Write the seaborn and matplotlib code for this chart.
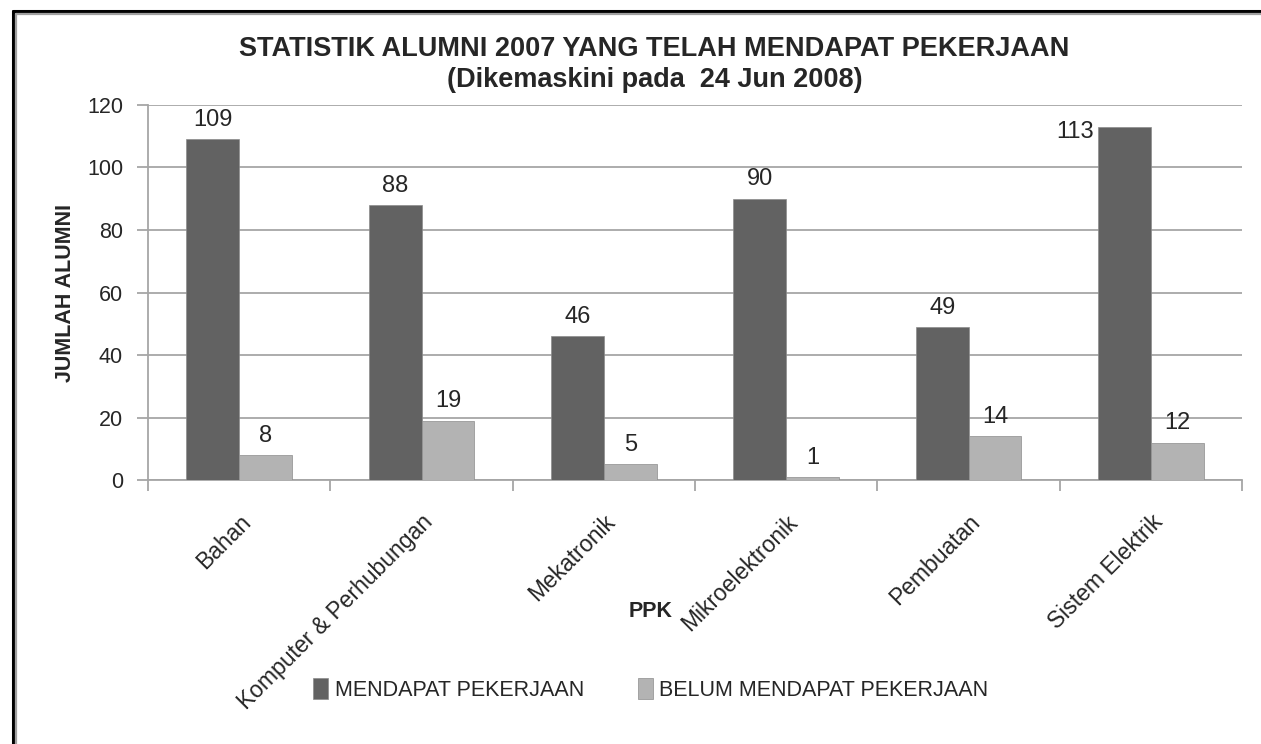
#!/usr/bin/env python3
# Bar chart: alumni 2007 employment status by PPK (school)

import numpy as np
import pandas as pd
import seaborn as sns
import matplotlib
matplotlib.use("Agg")
import matplotlib.pyplot as plt
from matplotlib.lines import Line2D

# Data
ppk = ["Bahan", "Komputer & Perhubungan", "Mekatronik", "Mikroelektronik",
       "Pembuatan", "Sistem Elektrik"]
mendapat = [109, 88, 46, 90, 49, 113]
belum = [8, 19, 5, 1, 14, 12]
statusNames = ["MENDAPAT PEKERJAAN", "BELUM MENDAPAT PEKERJAAN"]
yTicks = [0, 20, 40, 60, 80, 100, 120]

titleText = "STATISTIK ALUMNI 2007 YANG TELAH MENDAPAT PEKERJAAN\n(Dikemaskini pada  24 Jun 2008)"

DARK = "#626262"
LIGHT = "#b3b3b3"
GRID = "#a6a6a6"
NARROW = ["Liberation Sans Narrow", "Liberation Sans", "DejaVu Sans"]
REGULAR = ["Liberation Sans", "DejaVu Sans"]

rows = []
for name, a, b in zip(ppk, mendapat, belum):
  rows.append({"PPK": name, "Status": statusNames[0], "Jumlah": a})
  rows.append({"PPK": name, "Status": statusNames[1], "Jumlah": b})
df = pd.DataFrame(data=rows)

sns.set_style("white")
plt.rcParams['font.family'] = REGULAR

fig = plt.figure(figsize=(12.61, 7.44), dpi=100)
ax = fig.add_axes([0.1174, 0.3548, 0.8676, 0.5041])

sns.barplot(data=df, x="PPK", y="Jumlah", hue="Status", order=ppk,
            hue_order=statusNames, palette={statusNames[0]: DARK, statusNames[1]: LIGHT},
            width=0.58, edgecolor="#8c8c8c", linewidth=0.5, saturation=1,
            legend=True, ax=ax, zorder=3)

ax.set_ylim(0, 120)
ax.set_xlim(-0.5, len(ppk) - 0.5)
ax.set_yticks(yTicks)
ax.yaxis.grid(True, color=GRID, linewidth=1.3, zorder=0)
ax.set_axisbelow(True)

for side in ["top", "right"]:
  ax.spines[side].set_visible(False)
for side in ["left", "bottom"]:
  ax.spines[side].set_color(GRID)
  ax.spines[side].set_linewidth(1.3)

ax.tick_params(axis="y", which="major", length=8, width=1.3, color=GRID,
               labelsize=15.5, pad=10, left=True)
ax.set_xticks(np.arange(len(ppk)))
ax.set_xticklabels(ppk, rotation=45, ha="right", rotation_mode="anchor")
ax.set_xticks(np.arange(len(ppk) + 1) - 0.5, minor=True)
ax.tick_params(axis="x", which="major", length=0, labelsize=16.5, pad=22)
ax.tick_params(axis="x", which="minor", length=8, width=1.3, color=GRID, bottom=True)

ax.set_xlabel("")
ax.set_ylabel("JUMLAH ALUMNI", fontsize=15.5, fontweight="bold", family=NARROW, labelpad=8)
fig.text(0.516, 0.178, "PPK", ha="center", va="center", fontsize=15.5,
         fontweight="bold", family=NARROW)

# Value labels
for container, vals in zip(ax.containers, [mendapat, belum]):
  labels = [str(v) for v in vals]
  if vals is mendapat:
    iMax = int(np.argmax(vals))
    labels[iMax] = ""
    bar = container.patches[iMax]
    ax.annotate(str(vals[iMax]), (bar.get_x(), bar.get_height()),
                xytext=(-3, -4), textcoords="offset points", ha="right", va="center",
                fontsize=17, family=NARROW)
  ax.bar_label(container, labels=labels, padding=6, fontsize=17, family=NARROW)

# Legend at the bottom
handles, _ = ax.get_legend_handles_labels()
ax.legend_.remove()
fig.legend(handles, statusNames, loc="center", bbox_to_anchor=(0.516, 0.073),
           ncol=2, frameon=False, handlelength=0.7, handleheight=1.1,
           handletextpad=0.3, columnspacing=2.5, prop={"family": NARROW, "size": 15.5})

# Title
fig.text(0.519, 0.913, titleText, ha="center", va="center", fontsize=19.5,
         fontweight="bold", family=NARROW, linespacing=1.25)

# Double frame lines (top-left border)
fig.add_artist(Line2D([0.0103, 1.0], [0.9852, 0.9852], transform=fig.transFigure,
                      color="black", linewidth=2.2))
fig.add_artist(Line2D([0.0103, 0.0103], [0.0, 0.9852], transform=fig.transFigure,
                      color="black", linewidth=2.2))
fig.add_artist(Line2D([0.0130, 1.0], [0.9812, 0.9812], transform=fig.transFigure,
                      color="#a0a0a0", linewidth=1.6))
fig.add_artist(Line2D([0.0130, 0.0130], [0.0, 0.9812], transform=fig.transFigure,
                      color="#a0a0a0", linewidth=1.6))

fig.savefig("out.png", dpi=100)
